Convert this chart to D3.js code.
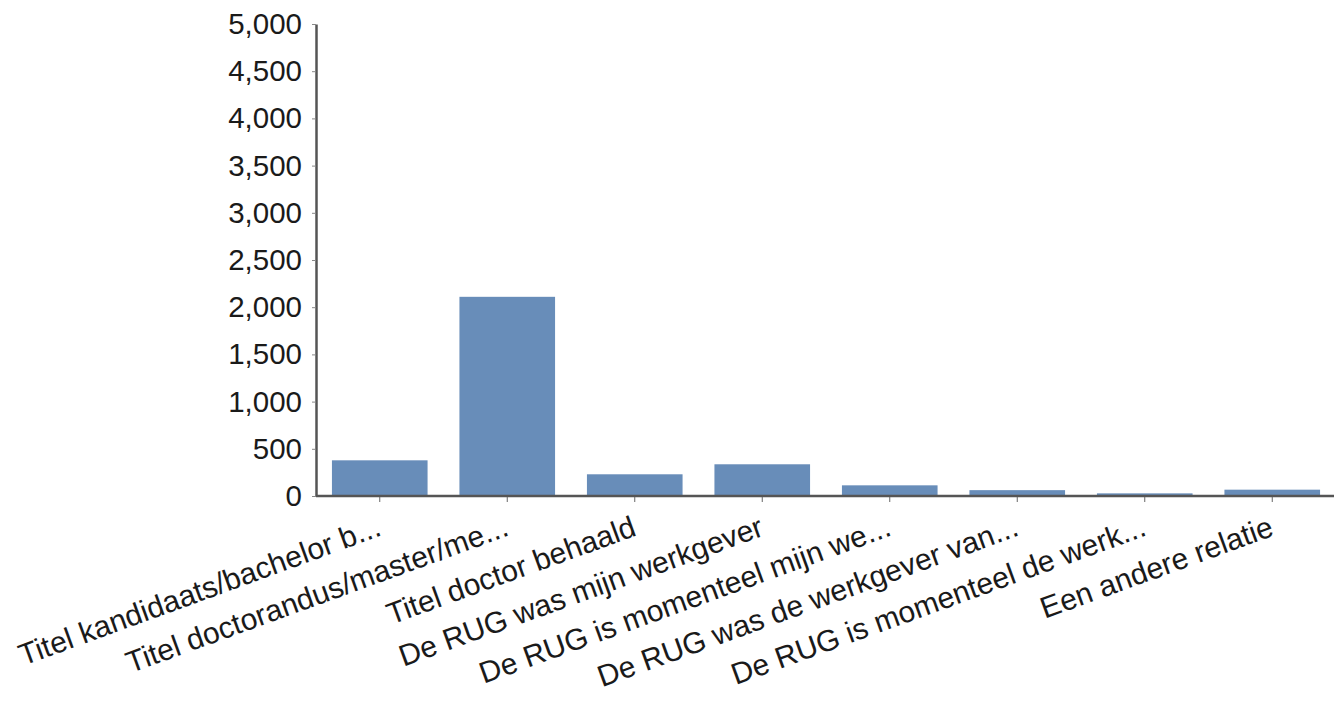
<!DOCTYPE html>
<html>
<head>
<meta charset="utf-8">
<script src="https://cdn.jsdelivr.net/npm/d3@7/dist/d3.min.js"></script>
<style>
  html, body { margin: 0; padding: 0; background: #fff; }
  svg { display: block; }
  text { font-family: "Liberation Sans", Arial, sans-serif; fill: #1a1a1a; }
</style>
</head>
<body>
<svg id="chart" width="1334" height="707"></svg>
<script>
const categories = [
  "Titel kandidaats/bachelor b...",
  "Titel doctorandus/master/me...",
  "Titel doctor behaald",
  "De RUG was mijn werkgever",
  "De RUG is momenteel mijn we...",
  "De RUG was de werkgever van...",
  "De RUG is momenteel de werk...",
  "Een andere relatie"
];
const values = [378, 2110, 230, 336, 113, 62, 28, 67];
const yTicks = [0, 500, 1000, 1500, 2000, 2500, 3000, 3500, 4000, 4500, 5000];

(function () {
const svg = d3.select("#chart");
const mLeft = 316, mRight = 1336, mTop = 24, mBottom = 496;

const x = d3.scaleBand().domain(categories).range([mLeft, mRight])
  .paddingInner(0.25).paddingOuter(0.125);
const y = d3.scaleLinear().domain([0, 5000]).range([mBottom, mTop]);

// bars
svg.append("g").selectAll("rect").data(values).join("rect")
  .attr("x", (d, i) => x(categories[i]))
  .attr("y", d => y(d))
  .attr("width", x.bandwidth())
  .attr("height", d => y(0) - y(d))
  .attr("fill", "#688db9");

// y axis
const yAxis = svg.append("g").attr("transform", `translate(${mLeft},0)`)
  .call(d3.axisLeft(y).tickValues(yTicks).tickFormat(d3.format(",")).tickSize(4).tickSizeOuter(0).tickPadding(10));
yAxis.select(".domain").attr("stroke", "#555").attr("stroke-width", 2.5);
yAxis.selectAll(".tick line").attr("stroke", "#888");
yAxis.selectAll(".tick text").style("font-size", "29.5px").attr("fill", "#1a1a1a");

// x axis
const xAxis = svg.append("g").attr("transform", `translate(0,${mBottom})`)
  .call(d3.axisBottom(x).tickSize(4).tickSizeOuter(0));
xAxis.select(".domain").attr("stroke", "#555").attr("stroke-width", 2.5)
  .attr("d", `M${mLeft},0H1334`);
xAxis.selectAll(".tick line").attr("stroke", "#666").attr("y1", 1).attr("y2", 6);
xAxis.selectAll(".tick text")
  .style("font-size", "30px")
  .attr("fill", "#1a1a1a")
  .attr("text-anchor", "end")
  .attr("x", 0).attr("y", 0).attr("dy", 0)
  .attr("transform", "translate(3,39) rotate(-20)");
})();
</script>
</body>
</html>
